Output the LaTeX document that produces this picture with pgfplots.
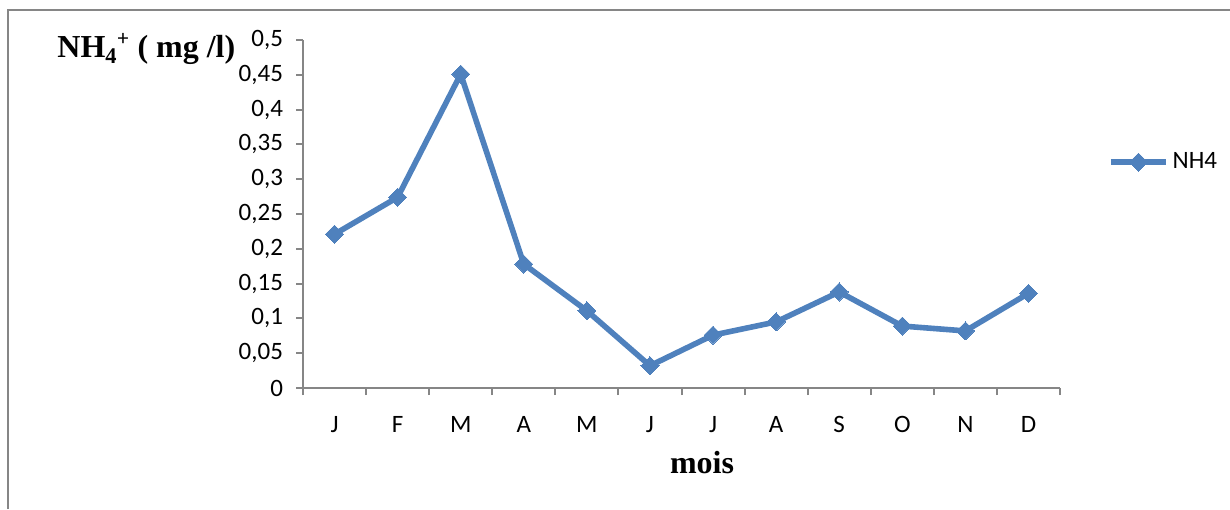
\documentclass[border=0pt]{standalone}
\usepackage{pgfplots}
\pgfplotsset{compat=1.18}
\usepackage{fontspec}
\setmainfont{Carlito}
\newfontfamily\tnr{Liberation Serif}
\definecolor{serie}{HTML}{4F81BD}
\definecolor{axe}{HTML}{868686}
\begin{document}
\begin{tikzpicture}
% page = 1230 x 509 px, 1 px = 0.5pt
\useasboundingbox (0,0) rectangle (615pt,254.5pt);
\draw[axe, line width=1pt] (4pt,0) -- (4pt,249.5pt) -- (615pt,249.5pt);
\begin{axis}[
    scale only axis,
    width=378.5pt, height=174pt,
    at={(151.5pt,60.5pt)}, anchor=south west,
    xmin=0.5, xmax=12.5,
    ymin=0, ymax=0.5,
    axis x line=bottom, axis y line=left,
    axis line style={-, axe, line width=1pt},
    xtick={1,...,12},
    xticklabels={J,F,M,A,M,J,J,A,S,O,N,D},
    major x tick style={draw=none},
    minor xtick={0.5,1.5,...,12.5},
    minor tick length=3.5pt,
    x tick style={axe, line width=1pt},
    ytick={0,0.05,...,0.5},
    y tick style={axe, line width=1pt},
    major tick length=3.5pt,
    tick align=outside,
    xticklabel style={yshift=-7pt},
    yticklabel style={xshift=-3pt},
    tick label style={font=\fontsize{12.5}{14}\selectfont},
    /pgf/number format/.cd, use comma, fixed, precision=2, assume math mode=true,
    /pgfplots/.cd,
    legend style={at={(1.063,0.649)}, anchor=west, draw=none, inner sep=0pt,
        font=\fontsize{12.5}{14}\selectfont, cells={anchor=west}},
    legend image code/.code={%
        \draw[mark repeat=2, mark phase=2, #1] plot coordinates {(0pt,0pt) (13.75pt,0pt) (27.5pt,0pt)};},
]
\addplot[serie, line width=2.8pt, mark=square*, mark size=3.2pt,
    mark options={rotate=45, solid, line width=0pt}]
    coordinates {
    (1,0.221) (2,0.274) (3,0.451) (4,0.178) (5,0.111) (6,0.032)
    (7,0.076) (8,0.095) (9,0.138) (10,0.089) (11,0.082) (12,0.136)
    };
\addlegendentry{NH4}
\end{axis}
\node[anchor=base west, inner sep=0pt, font=\tnr\bfseries\fontsize{16}{18}\selectfont]
    at (28.5pt,225.5pt) {NH\textsubscript{4}\textsuperscript{\normalfont\fontsize{11}{12}\selectfont +} ( mg /l)};
\node[anchor=base, inner sep=0pt, font=\tnr\bfseries\fontsize{16}{18}\selectfont]
    at (351pt,18pt) {mois};
\end{tikzpicture}
\end{document}
